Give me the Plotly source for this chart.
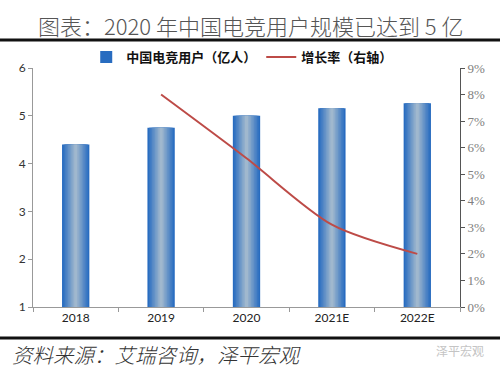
import plotly.graph_objects as go

# ---- data ----
years = ["2018", "2019", "2020", "2021E", "2022E"]
users = [4.4, 4.75, 5.0, 5.16, 5.26]          # 中国电竞用户（亿人）
growth = [None, 0.080, 0.056, 0.031, 0.020]    # 增长率（右轴）
left_ticks = [1, 2, 3, 4, 5, 6]

title_text = "图表：2020 年中国电竞用户规模已达到 5 亿"
source_text = "资料来源：艾瑞咨询，泽平宏观"
watermark_text = "泽平宏观"
bar_name = "中国电竞用户（亿人）"
line_name = "增长率（右轴）"

# ---- style helpers ----
edge = (40, 108, 192)
center = (160, 184, 206)
n_layers = 9
outer_w = 0.32

def mix(t):
    r = [round(edge[k] + (center[k] - edge[k]) * t) for k in range(3)]
    return "rgb(%d,%d,%d)" % tuple(r)

fig = go.Figure()
for i in range(n_layers):
    t = i / (n_layers - 1)
    w = outer_w * (1 - i / n_layers)
    fig.add_trace(go.Bar(
        x=years, y=users, width=w,
        marker=dict(color=mix(t), line=dict(width=0)),
        name=bar_name, showlegend=(i == 0), legendgroup="bars",
        hoverinfo="skip" if i else None,
    ))

fig.add_trace(go.Scatter(
    x=years, y=growth, yaxis="y2", mode="lines", name=line_name,
    line=dict(color="#BD4B47", width=2, shape="spline", smoothing=0.8),
    connectgaps=False,
))

# plot area in pixels: x 33..460, y 68..307
L, R, T, B = 33, 40, 68, 63
W, H = 500, 370
pw, ph = W - L - R, H - T - B

def px_x(x):
    return (x - L) / pw

def px_y(y):
    return (H - B - y) / ph

fig.update_layout(
    width=W, height=H,
    margin=dict(l=L, r=R, t=T, b=B),
    paper_bgcolor="white", plot_bgcolor="white",
    barmode="overlay",
    font=dict(family="Noto Sans CJK SC, sans-serif", color="#222"),
    showlegend=True,
    legend=dict(orientation="h", x=0.49, xanchor="center", y=px_y(57), yanchor="middle",
                font=dict(size=13, color="#111", family="Noto Sans CJK SC", weight="bold"),
                bgcolor="rgba(0,0,0,0)", itemwidth=30, traceorder="normal"),
    xaxis=dict(type="category", tickson="boundaries", ticks="outside", ticklen=4,
               tickcolor="#999", showline=True, linecolor="#999", linewidth=1,
               tickfont=dict(size=12, color="#222", family="Lato, sans-serif"),
               showgrid=False),
    yaxis=dict(range=[1, 6], tickvals=left_ticks, ticks="outside", ticklen=4,
               tickcolor="#999", showline=True, linecolor="#999", linewidth=1,
               tickfont=dict(size=12, color="#333", family="Lato, sans-serif"),
               showgrid=False, zeroline=False),
    yaxis2=dict(overlaying="y", side="right", range=[0, 0.09], dtick=0.01,
                tickformat=".0%", ticks="outside", ticklen=4, tickcolor="#555",
                showline=True, linecolor="#555", linewidth=1,
                tickfont=dict(size=13, color="#808080", family="Liberation Serif, serif"),
                showgrid=False, zeroline=False),
)

fig.add_annotation(text=title_text, xref="paper", yref="paper",
                   x=px_x(250), y=px_y(25), xanchor="center", yanchor="middle",
                   showarrow=False,
                   font=dict(size=22, color="#555", family="Noto Sans CJK SC", weight=300))
fig.add_annotation(text="<i>" + source_text + "</i>", xref="paper", yref="paper",
                   x=px_x(10), y=px_y(354), xanchor="left", yanchor="middle",
                   showarrow=False,
                   font=dict(size=20.5, color="#333", family="Noto Sans CJK SC", weight=300))
fig.add_annotation(text=watermark_text, xref="paper", yref="paper",
                   x=px_x(486), y=px_y(350), xanchor="right", yanchor="middle",
                   showarrow=False,
                   font=dict(size=12, color="#C4C4C4", family="Noto Sans CJK SC"))

for yline in (40, 338):
    fig.add_shape(type="line", xref="paper", yref="paper",
                  x0=px_x(0), x1=px_x(500), y0=px_y(yline), y1=px_y(yline),
                  line=dict(color="#111", width=3))

fig.write_html("out.html", config={"displayModeBar": False},
               post_script="document.body.style.margin='0';document.body.style.padding='0';")
